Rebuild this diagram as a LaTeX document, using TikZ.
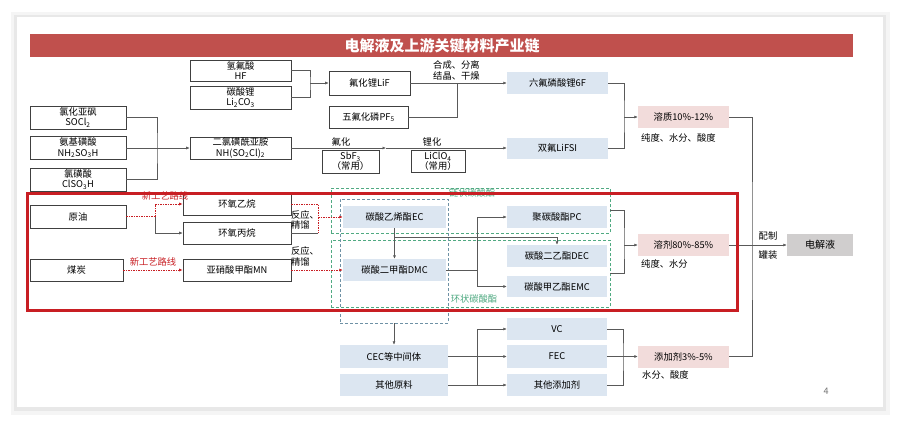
\documentclass[tikz,border=0pt]{standalone}
\usepackage{fontspec}
\newfontfamily\cjk{Noto Sans CJK SC}
\usetikzlibrary{arrows.meta}
\definecolor{titlered}{RGB}{192,80,77}
\definecolor{framered}{RGB}{200,30,35}
\definecolor{boxblue}{RGB}{220,230,241}
\definecolor{boxpink}{RGB}{242,220,219}
\definecolor{boxgray}{RGB}{208,206,206}
\definecolor{grpgreen}{RGB}{80,170,130}
\definecolor{grpteal}{RGB}{110,145,165}

\begin{document}
\begin{tikzpicture}[x=1pt, y=-1pt,
      every node/.style={font=\cjk\fontsize{9.3}{10.3}\selectfont, inner sep=0pt},
      sz/.style 2 args={minimum width=#1pt, minimum height=#2pt},
      rawbox/.style={draw=black!75, fill=white, line width=0.6pt, align=center},
      bluebox/.style={fill=boxblue, align=center},
      pinkbox/.style={fill=boxpink, align=center},
      graybox/.style={fill=boxgray, align=center},
      grp/.style={draw=grpgreen, dashed, dash pattern=on 3pt off 2pt, line width=0.6pt},
      lbl/.style={align=left},
      ln/.style={draw=black!65, line width=0.55pt},
      arr/.style={ln, -{Latex[length=3.5pt,width=3pt]}},
      rdash/.style={draw=framered, line width=0.7pt, dash pattern=on 1.5pt off 1pt},
      rarr/.style={rdash, -{Latex[length=3.5pt,width=3pt]}}]
    \useasboundingbox (0,0) rectangle (898,423);
    % card with shadow
    \fill[white] (0,0) rectangle (898,423);
    \fill[black!4] (11,12) rectangle (890,415);
    \fill[black!9] (14,15) rectangle (886,411);
    \fill[white] (17,17) rectangle (883,407);
    \fill[titlered] (30,34) rectangle (853,57);
    \node[text=white, font=\cjk\fontsize{15}{17}\selectfont\bfseries] (title) at (442,45.5) {电解液及上游关键材料产业链};

    % carbonate groups
    \node[grp, sz={279}{45}] (grpA) at (470.5,210.5) {};
    \node[grp, sz={279}{67}] (grpB) at (470.5,273.5) {};
    \node[grp, draw=grpteal, sz={108}{124}] (grpC) at (394,261) {};
    \node[text=grpgreen] (chainlbl) at (472,193) {链状碳酸酯};
    \node[text=grpgreen] (ringlbl) at (474,299) {环状碳酸酯};

    % lithium salts
    \node[rawbox, sz={101}{21}] (hf) at (240.5,70.5) {氢氟酸\\HF};
    \node[rawbox, sz={101}{23}] (li2co3) at (240.5,97.5) {碳酸锂\\Li\textsubscript{2}CO\textsubscript{3}};
    \node[rawbox, sz={81}{24}] (lif) at (369.5,83) {氟化锂LiF};
    \node[rawbox, sz={79}{22}] (pf5) at (368.5,117) {五氟化磷PF\textsubscript{5}};
    \node[bluebox, sz={101}{22}] (lipf6) at (557.5,83) {六氟磷酸锂6F};
    \node[rawbox, sz={96}{23}] (socl2) at (78,117.5) {氯化亚砜\\SOCl\textsubscript{2}};
    \node[rawbox, sz={96}{23}] (nh2so3h) at (78,148) {氨基磺酸\\NH\textsubscript{2}SO\textsubscript{3}H};
    \node[rawbox, sz={96}{23}] (clso3h) at (78,179.5) {氯磺酸\\ClSO\textsubscript{3}H};
    \node[rawbox, sz={101}{22}] (imide) at (240.5,148) {二氯磺酰亚胺\\NH(SO\textsubscript{2}Cl)\textsubscript{2}};
    \node[rawbox, sz={57}{23}] (sbf3) at (350.5,161.5) {SbF\textsubscript{3}\\（常用）};
    \node[rawbox, sz={54}{22}] (liclo4) at (438,161.5) {LiClO\textsubscript{4}\\（常用）};
    \node[bluebox, sz={101}{21}] (lifsi) at (557.5,148) {双氟LiFSI};

    % solvents
    \node[rawbox, sz={96}{23}] (crude) at (78,216.5) {原油};
    \node[rawbox, sz={93}{22}] (coal) at (76.5,270) {煤炭};
    \node[rawbox, sz={108}{22}] (eo) at (237,204) {环氧乙烷};
    \node[rawbox, sz={108}{22}] (po) at (237,233) {环氧丙烷};
    \node[rawbox, sz={108}{22}] (mn) at (237,270) {亚硝酸甲酯MN};
    \node[bluebox, sz={103}{22}] (ec) at (394.5,217) {碳酸乙烯酯EC};
    \node[bluebox, sz={103}{22}] (dmc) at (394.5,270) {碳酸二甲酯DMC};
    \node[bluebox, sz={100}{22}] (pc) at (557,217) {聚碳酸酯PC};
    \node[bluebox, sz={100}{22}] (dec) at (557,256) {碳酸二乙酯DEC};
    \node[bluebox, sz={100}{21}] (emc) at (557,286.5) {碳酸甲乙酯EMC};

    % additives
    \node[bluebox, sz={108}{23}] (cec) at (394,356.5) {CEC等中间体};
    \node[bluebox, sz={108}{22}] (oraw) at (394,385) {其他原料};
    \node[bluebox, sz={100}{22}] (vc) at (557,329) {VC};
    \node[bluebox, sz={100}{23}] (fec) at (557,356.5) {FEC};
    \node[bluebox, sz={100}{22}] (oadd) at (557,385) {其他添加剂};

    % electrolyte parts
    \node[pinkbox, sz={91}{22}] (solute) at (683.5,117) {溶质10\%-12\%};
    \node[pinkbox, sz={91}{22}] (solvent) at (683.5,245) {溶剂80\%-85\%};
    \node[pinkbox, sz={91}{22}] (additive) at (683.5,356.5) {添加剂3\%-5\%};
    \node[graybox, sz={66}{22}, font=\cjk\fontsize{10}{11}\selectfont] (elyte) at (820,245) {电解液};

    % junctions
    \coordinate (jA) at (310,83);
    \coordinate (jB) at (457,83);
    \coordinate (jC) at (157,148);
    \coordinate (jD) at (386,148);
    \coordinate (jE) at (624,117);
    \coordinate (jF) at (752,245);
    \coordinate (jG) at (155,216.5);
    \coordinate (jH) at (318,217);
    \coordinate (jH2) at (318,233);
    \coordinate (jI) at (394.5,237);
    \coordinate (jJ) at (477,270);
    \coordinate (jK) at (624,245);
    \coordinate (jL) at (477,356.5);
    \coordinate (jM) at (623,356.5);

    % salt connectors
    \draw[ln] (hf.east) -| (jA) |- (li2co3.east);
    \draw[arr] (jA) -- (lif.west);
    \draw[arr] (lif.east) -- (lipf6.west);
    \draw[ln] (pf5.east) -| (jB);
    \draw[ln] (socl2.east) -| (jC) |- (clso3h.east);
    \draw[arr] (nh2so3h.east) -- (imide.west);
    \draw[arr] (imide.east) -- (jD);
    \draw[arr] (jD) -- (lifsi.west);
    \draw[ln] (lipf6.east) -| (jE) |- (lifsi.east);
    \draw[arr] (jE) -- (solute.west);

    % solvent connectors
    \draw[rdash] (crude.east) -- (jG);
    \draw[rarr] (jG) |- (eo.west);
    \draw[arr] (jG) |- (po.west);
    \draw[rdash] (eo.east) -| (jH2);
    \draw[ln] (po.east) -- (jH2);
    \draw[rarr] (jH) -- (ec.west);
    \draw[rarr] (coal.east) -- (mn.west);
    \draw[rarr] (mn.east) -- (dmc.west);
    \draw[arr] (ec.south) -- (dmc.north);
    \draw[arr] (jI) -| (dec.north);
    \draw[ln] (dmc.east) -- (jJ);
    \draw[arr] (jJ) |- (pc.west);
    \draw[arr] (jJ) |- (emc.west);
    \draw[ln] (grpA.east) -| (jK) |- (grpB.east);
    \draw[arr] (jK) -- (solvent.west);

    % additive connectors
    \draw[arr] (grpC.south) -- (cec.north);
    \draw[ln] (cec.east) -- (jL);
    \draw[arr] (jL) |- (vc.west);
    \draw[arr] (jL) -- (fec.west);
    \draw[arr] (jL) |- (oadd.west);
    \draw[ln] (oraw.east) -- (oraw.east -| jL);
    \draw[ln] (vc.east) -| (jM) |- (oadd.east);
    \draw[arr] (fec.east) -- (additive.west);

    % to electrolyte
    \draw[ln] (solute.east) -| (jF) |- (additive.east);
    \draw[arr] (solvent.east) -- (elyte.west);

    % labels
    \node[lbl, anchor=west] (synlbl) at (433,70.5) {合成、分离\\结晶、干燥};
    \node (fluolbl) at (341,142) {氟化};
    \node (lithlbl) at (432,142) {锂化};
    \node[lbl] (rxlbl1) at (305,220) {反应、\\精馏};
    \node[lbl] (rxlbl2) at (305,256.5) {反应、\\精馏};
    \node[text=framered] (newlbl1) at (165,196) {新工艺路线};
    \node[text=framered] (newlbl2) at (153,262) {新工艺路线};
    \node[anchor=west] (q1) at (641,138) {纯度、水分、酸度};
    \node[anchor=west] (q2) at (641,264) {纯度、水分};
    \node[anchor=west] (q3) at (642,375) {水分、酸度};
    \node (mixlbl) at (768,236) {配制};
    \node (filllbl) at (768,255) {罐装};
    \node[text=black!55, font=\cjk\fontsize{9}{10}\selectfont] (page) at (826,391) {4};

    % highlight frame
    \draw[framered, line width=3pt] (27,193) rectangle (737,310);
  \end{tikzpicture}
\end{document}
